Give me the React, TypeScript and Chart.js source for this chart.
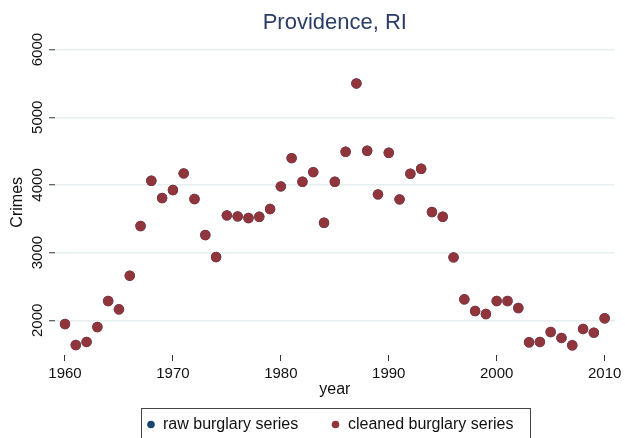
import React, { useEffect, useRef } from 'react';
import { Chart, registerables } from 'chart.js';

Chart.register(...registerables);

const years = [
  1960, 1961, 1962, 1963, 1964, 1965, 1966, 1967, 1968, 1969,
  1970, 1971, 1972, 1973, 1974, 1975, 1976, 1977, 1978, 1979,
  1980, 1981, 1982, 1983, 1984, 1985, 1986, 1987, 1988, 1989,
  1990, 1991, 1992, 1993, 1994, 1995, 1996, 1997, 1998, 1999,
  2000, 2001, 2002, 2003, 2004, 2005, 2006, 2007, 2008, 2009, 2010,
];

const cleanedBurglary = [
  1945, 1635, 1680, 1900, 2285, 2162, 2659, 3393, 4062, 3807,
  3925, 4171, 3792, 3260, 2935, 3551, 3536, 3511, 3530, 3644,
  3979, 4397, 4047, 4190, 3442, 4047, 4490, 5500, 4505, 3861,
  4476, 3787, 4166, 4239, 3600, 3530, 2930, 2310, 2137, 2093,
  2285, 2285, 2182, 1675, 1680, 1827, 1739, 1631, 1872, 1817, 2030,
];

const rawBurglary = [
  1945, 1635, 1680, 1900, 2285, 2162, 2659, 3393, 4062, 3807,
  3925, 4171, 3792, 3260, 2935, 3551, 3536, 3511, 3530, 3644,
  3979, 4397, 4047, 4190, 3442, 4047, 4490, 5500, 4505, 3861,
  4476, 3787, 4166, 4239, 3600, 3530, 2930, 2310, 2137, 2093,
  2285, 2285, 2182, 1675, 1680, 1827, 1739, 1631, 1872, 1817, 2030,
];

const xTickValues = [1960, 1970, 1980, 1990, 2000, 2010];
const yTickValues = [2000, 3000, 4000, 5000, 6000];

const titleText = 'Providence, RI';
const xTitle = 'year';
const yTitle = 'Crimes';
const rawLabel = 'raw burglary series';
const cleanedLabel = 'cleaned burglary series';

const FONT = '"Liberation Sans", Arial, Helvetica, sans-serif';
const NAVY = '#1a476f';
const MAROON = '#90353b';
const TITLE_COLOR = '#2a3d66';
const TEXT_COLOR = '#111111';

const decorPlugin = {
  id: 'decor',
  afterDraw(chart: any) {
    const { ctx, chartArea } = chart;
    ctx.save();
    // Title
    ctx.fillStyle = TITLE_COLOR;
    ctx.font = `22px ${FONT}`;
    ctx.textAlign = 'center';
    ctx.textBaseline = 'middle';
    ctx.fillText(titleText, (chartArea.left + chartArea.right) / 2, 23);

    // Legend box
    ctx.strokeStyle = '#444444';
    ctx.lineWidth = 1;
    ctx.strokeRect(141.5, 408.5, 389, 40);

    const items = [
      { ds: chart.data.datasets[0], cx: 151, tx: 163 },
      { ds: chart.data.datasets[1], cx: 335.5, tx: 348 },
    ];
    ctx.font = `16px ${FONT}`;
    ctx.textAlign = 'left';
    ctx.textBaseline = 'middle';
    items.forEach((it) => {
      ctx.fillStyle = it.ds.backgroundColor;
      ctx.beginPath();
      ctx.arc(it.cx, 424.5, 3.8, 0, Math.PI * 2);
      ctx.fill();
      ctx.fillStyle = TEXT_COLOR;
      ctx.fillText(it.ds.label, it.tx, 425);
    });
    ctx.restore();
  },
};

export default function App() {
  const ref = useRef<HTMLCanvasElement>(null);

  useEffect(() => {
    const canvas = ref.current;
    if (!canvas) return;
    const chart = new Chart(canvas, {
      type: 'scatter',
      data: {
        datasets: [
          {
            label: rawLabel,
            data: years.map((x, i) => ({ x, y: rawBurglary[i] })),
            backgroundColor: NAVY,
            borderColor: NAVY,
            borderWidth: 0,
            pointRadius: 5.2,
            order: 2,
          },
          {
            label: cleanedLabel,
            data: years.map((x, i) => ({ x, y: cleanedBurglary[i] })),
            backgroundColor: MAROON,
            borderColor: MAROON,
            borderWidth: 0,
            pointRadius: 5.2,
            order: 1,
          },
        ],
      },
      options: {
        responsive: false,
        animation: false,
        devicePixelRatio: 1,
        layout: { padding: { top: 49.6, right: 10, left: 0, bottom: 0 } },
        plugins: {
          legend: { display: false },
          title: { display: false },
          tooltip: { enabled: false },
        },
        scales: {
          x: {
            type: 'linear',
            min: 1959.074,
            max: 2010.926,
            afterBuildTicks: (s: any) => {
              s.ticks = xTickValues.map((v) => ({ value: v }));
            },
            afterFit: (s: any) => {
              s.height = 83;
            },
            grid: {
              drawOnChartArea: false,
              drawTicks: true,
              tickLength: 6,
              tickColor: '#333333',
              tickWidth: 1,
            },
            border: { display: false },
            ticks: {
              font: { family: FONT, size: 15 },
              color: TEXT_COLOR,
              padding: 3.5,
              maxRotation: 0,
              minRotation: 0,
              autoSkip: false,
              callback: (v: any) => String(v),
            },
            title: {
              display: true,
              text: xTitle,
              font: { family: FONT, size: 16 },
              color: TEXT_COLOR,
              padding: { top: 0, bottom: 38.6 },
            },
          },
          y: {
            type: 'linear',
            min: 1487,
            max: 6000,
            afterBuildTicks: (s: any) => {
              s.ticks = yTickValues.map((v) => ({ value: v }));
            },
            afterFit: (s: any) => {
              s.width = 55;
            },
            grid: {
              color: '#e6eef0',
              lineWidth: 1.5,
              drawTicks: true,
              tickLength: 6,
              tickColor: '#333333',
              tickWidth: 1,
            },
            border: { display: false },
            ticks: {
              font: { family: FONT, size: 15 },
              color: TEXT_COLOR,
              minRotation: 90,
              maxRotation: 90,
              crossAlign: 'center',
              padding: -5.5,
              autoSkip: false,
              callback: (v: any) => String(v),
            },
            title: {
              display: true,
              text: yTitle,
              font: { family: FONT, size: 16 },
              color: TEXT_COLOR,
              padding: { top: 8.4, bottom: 0 },
            },
          },
        },
      } as any,
      plugins: [decorPlugin],
    });
    return () => chart.destroy();
  }, []);

  return (
    <div style={{ position: 'absolute', left: 0, top: 0, width: 625, height: 438, background: '#ffffff' }}>
      <canvas ref={ref} width={625} height={438} style={{ display: 'block', width: 625, height: 438 }} />
    </div>
  );
}
